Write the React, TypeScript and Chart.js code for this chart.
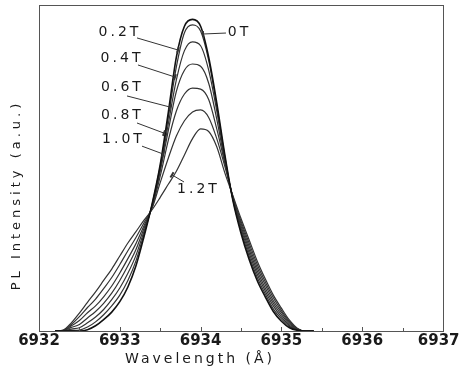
import { useEffect, useRef } from "react";
import { Chart, registerables } from "chart.js";
Chart.register(...registerables);

// Wavelength grid (Å)
const WAVELENGTH = [
  6932.2, 6932.3, 6932.4, 6932.5, 6932.6, 6932.7, 6932.8, 6932.9, 6933.0, 6933.1, 6933.2,
  6933.3, 6933.4, 6933.5, 6933.6, 6933.7, 6933.8, 6933.9, 6934.0, 6934.1, 6934.2, 6934.3,
  6934.4, 6934.5, 6934.6, 6934.7, 6934.8, 6934.9, 6935.0, 6935.1, 6935.2, 6935.3, 6935.4,
];

const FIELDS = ["0T", "0.2T", "0.4T", "0.6T", "0.8T", "1.0T", "1.2T"];

const PL_0T = [
  0, 0, 0, 0, 0.004, 0.016, 0.035, 0.058, 0.09, 0.135, 0.2,
  0.29, 0.39, 0.51, 0.67, 0.84, 0.935, 0.956, 0.935, 0.84, 0.7, 0.54,
  0.4, 0.3, 0.22, 0.155, 0.105, 0.06, 0.03, 0.01, 0.002, 0, 0,
];
const PL_02T = [
  0, 0, 0.002, 0.003, 0.012, 0.028, 0.05, 0.077, 0.11, 0.155, 0.215,
  0.298, 0.388, 0.505, 0.655, 0.81, 0.915, 0.939, 0.92, 0.83, 0.69, 0.535,
  0.402, 0.307, 0.23, 0.165, 0.114, 0.068, 0.037, 0.014, 0.003, 0, 0,
];
const PL_04T = [
  0, 0, 0.006, 0.01, 0.025, 0.043, 0.066, 0.096, 0.132, 0.177, 0.232,
  0.306, 0.385, 0.495, 0.635, 0.77, 0.86, 0.887, 0.875, 0.8, 0.675, 0.525,
  0.405, 0.315, 0.24, 0.175, 0.123, 0.077, 0.043, 0.017, 0.004, 0, 0,
];
const PL_06T = [
  0, 0.001, 0.011, 0.02, 0.04, 0.06, 0.085, 0.116, 0.155, 0.2, 0.25,
  0.315, 0.383, 0.49, 0.615, 0.735, 0.8, 0.819, 0.812, 0.76, 0.65, 0.52,
  0.407, 0.322, 0.25, 0.185, 0.132, 0.085, 0.05, 0.021, 0.005, 0, 0,
];
const PL_08T = [
  0, 0.001, 0.016, 0.032, 0.056, 0.077, 0.105, 0.138, 0.178, 0.222, 0.268,
  0.323, 0.38, 0.475, 0.585, 0.675, 0.727, 0.745, 0.742, 0.71, 0.62, 0.515,
  0.41, 0.33, 0.26, 0.195, 0.142, 0.093, 0.057, 0.025, 0.006, 0, 0,
];
const PL_10T = [
  0, 0.002, 0.02, 0.044, 0.072, 0.098, 0.13, 0.164, 0.204, 0.246, 0.287,
  0.332, 0.377, 0.455, 0.53, 0.598, 0.645, 0.672, 0.678, 0.655, 0.59, 0.505,
  0.412, 0.337, 0.27, 0.205, 0.151, 0.102, 0.063, 0.029, 0.007, 0, 0,
];
const PL_12T = [
  0, 0.003, 0.025, 0.055, 0.088, 0.12, 0.155, 0.19, 0.23, 0.27, 0.305,
  0.34, 0.372, 0.41, 0.45, 0.49, 0.54, 0.59, 0.62, 0.612, 0.565, 0.485,
  0.415, 0.345, 0.28, 0.215, 0.16, 0.11, 0.07, 0.033, 0.008, 0, 0,
];

const SERIES = [PL_0T, PL_02T, PL_04T, PL_06T, PL_08T, PL_10T, PL_12T];

const X_MAJOR = [6932, 6933, 6934, 6935, 6936, 6937];
const X_MINOR = [6932.5, 6933.5, 6934.5, 6935.5, 6936.5];
const X_TITLE = "Wavelength (Å)";
const Y_TITLE = "PL Intensity (a.u.)";

// Curve call-outs, in data coordinates: [label, textX, textY, fromX, fromY, toX, toY]
const CALLOUTS: [string, number, number, number, number, number, number][] = [
  ["0.2T", 6932.983, 0.917, 6933.213, 0.899, 6933.72, 0.862],
  ["0.4T", 6933.009, 0.837, 6933.225, 0.816, 6933.683, 0.779],
  ["0.6T", 6933.015, 0.747, 6933.089, 0.721, 6933.621, 0.687],
  ["0.8T", 6933.015, 0.663, 6933.213, 0.638, 6933.547, 0.607],
  ["1.0T", 6933.027, 0.589, 6933.275, 0.567, 6933.535, 0.543],
  ["1.2T", 6933.955, 0.433, 6933.795, 0.457, 6933.646, 0.479],
  ["0T", 6934.463, 0.917, 6934.314, 0.914, 6934.03, 0.911],
];

const INK = "#1a1a1a";

const decor = {
  id: "decor",
  afterDatasetsDraw(chart: any) {
    const { ctx, chartArea: a, scales, width } = chart;
    const xs = scales.x;
    const ys = scales.y;
    ctx.save();
    // frame
    ctx.strokeStyle = "#555";
    ctx.lineWidth = 1;
    ctx.strokeRect(a.left + 0.5, a.top + 0.5, a.right - a.left, a.bottom - a.top);
    // inward ticks
    ctx.beginPath();
    X_MAJOR.forEach((v) => {
      const px = Math.round(xs.getPixelForValue(v)) + 0.5;
      ctx.moveTo(px, a.bottom);
      ctx.lineTo(px, a.bottom - 4);
    });
    X_MINOR.forEach((v) => {
      const px = Math.round(xs.getPixelForValue(v)) + 0.5;
      ctx.moveTo(px, a.bottom);
      ctx.lineTo(px, a.bottom - 3);
    });
    ctx.stroke();

    // tick labels (kept inside the canvas)
    ctx.fillStyle = INK;
    ctx.textBaseline = "top";
    ctx.textAlign = "center";
    ctx.font = "bold 15px 'DejaVu Sans'";
    X_MAJOR.forEach((v) => {
      const t = String(v);
      const w = ctx.measureText(t).width;
      let px = xs.getPixelForValue(v);
      px = Math.min(px, width - w / 2 - 0.5);
      px = Math.max(px, w / 2 + 0.5);
      ctx.fillText(t, px, a.bottom + 3);
    });

    // axis titles
    ctx.textBaseline = "middle";
    ctx.font = "14px 'DejaVu Sans'";
    (ctx as any).letterSpacing = "3px";
    ctx.fillText(X_TITLE, 200, 359);
    ctx.save();
    ctx.translate(17, 195);
    ctx.rotate(-Math.PI / 2);
    ctx.font = "13px 'DejaVu Sans'";
    (ctx as any).letterSpacing = "4px";
    ctx.fillText(Y_TITLE, 0, 0);
    ctx.restore();

    // call-outs
    ctx.font = "14px 'DejaVu Sans'";
    (ctx as any).letterSpacing = "3px";
    ctx.strokeStyle = "#333";
    ctx.lineWidth = 1;
    CALLOUTS.forEach(([t, tx, ty, fx, fy, ex, ey]) => {
      ctx.fillText(t, xs.getPixelForValue(tx) + 1.5, ys.getPixelForValue(ty));
      const x1 = xs.getPixelForValue(fx);
      const y1 = ys.getPixelForValue(fy);
      const x2 = xs.getPixelForValue(ex);
      const y2 = ys.getPixelForValue(ey);
      ctx.beginPath();
      ctx.moveTo(x1, y1);
      ctx.lineTo(x2, y2);
      ctx.stroke();
      const dx = x2 - x1;
      const dy = y2 - y1;
      const len = Math.hypot(dx, dy) || 1;
      const nx = -dy / len;
      const ny = dx / len;
      ctx.beginPath();
      ctx.lineWidth = 2;
      ctx.moveTo(x2 + nx * 3, y2 + ny * 3);
      ctx.lineTo(x2 - nx * 3, y2 - ny * 3);
      ctx.stroke();
      ctx.lineWidth = 1;
    });
    (ctx as any).letterSpacing = "0px";
    ctx.restore();
  },
};

export default function App() {
  const ref = useRef<HTMLCanvasElement>(null);
  useEffect(() => {
    if (!ref.current) return;
    const chart = new Chart(ref.current, {
      type: "line",
      data: {
        datasets: SERIES.map((s, i) => ({
          label: FIELDS[i],
          data: WAVELENGTH.map((w, j) => ({ x: w, y: s[j] })),
          borderColor: i === 0 ? "#111" : "#333",
          borderWidth: i === 0 ? 1.6 : 1.2,
          pointRadius: 0,
          fill: false,
          cubicInterpolationMode: "monotone" as const,
        })),
      },
      options: {
        animation: false,
        responsive: true,
        maintainAspectRatio: false,
        layout: { padding: { top: 5, right: 17, left: 0, bottom: 0 } },
        plugins: { legend: { display: false }, tooltip: { enabled: false } },
        scales: {
          x: {
            type: "linear",
            min: 6932,
            max: 6937,
            grid: { display: false, drawTicks: false },
            border: { display: false },
            ticks: { display: false, stepSize: 1 },
            afterFit: (s: any) => {
              s.height = 40;
              s.paddingLeft = 0;
              s.paddingRight = 0;
            },
          },
          y: {
            min: 0,
            max: 1,
            grid: { display: false, drawTicks: false },
            border: { display: false },
            ticks: { display: false },
            afterFit: (s: any) => {
              s.width = 39;
            },
          },
        },
      },
      plugins: [decor],
    });
    return () => chart.destroy();
  }, []);
  return (
    <div style={{ position: "fixed", left: 0, top: 0, width: 460, height: 371, background: "#fff" }}>
      <canvas ref={ref} />
    </div>
  );
}
